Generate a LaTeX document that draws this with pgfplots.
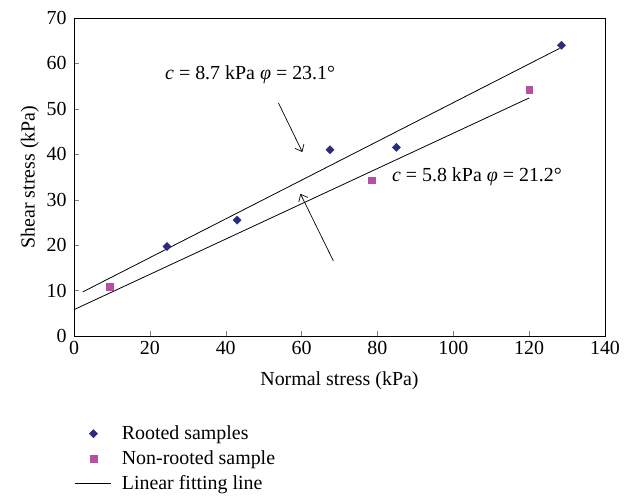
\documentclass[border=0pt]{standalone}
\usepackage{fontspec}
\setmainfont{Liberation Serif}
\usepackage{pgfplots}
\pgfplotsset{compat=1.18}
\usetikzlibrary{arrows.meta}
\definecolor{rootc}{HTML}{2B2A7E}
\definecolor{nonc}{HTML}{B64FA8}
\begin{document}
\begin{tikzpicture}[font=\fontsize{20}{23.5}\selectfont]
\begin{axis}[
  scale only axis,
  width=531bp, height=318bp,
  xmin=0, xmax=140, ymin=0, ymax=70,
  xtick={0,20,...,140}, ytick={0,10,...,70},
  tick pos=left, tick align=inside,
  major tick length=5bp,
  /pgf/number format/assume math mode=true,
  yticklabel style={xshift=-4bp},
  xticklabel style={yshift=-2bp},
  xlabel={Normal stress (kPa)},
  ylabel={Shear stress (kPa)},
  xlabel style={at={(axis description cs:0.5,-0.142)}, anchor=center},
  ylabel style={at={(axis description cs:-0.083,0.5)}, anchor=center},
  legend style={at={(axis description cs:-0.004,-0.273)}, anchor=north west, draw=none, fill=none,
    row sep=7.5bp, column sep=7bp, nodes={inner xsep=3bp, inner ysep=1bp}},
  legend cell align=left,
  clip=false,
]
\addplot[only marks, mark=square*, mark size=2.9bp, mark options={rotate=45}, color=rootc,
  legend image code/.code={\draw[mark repeat=2,mark phase=2] plot coordinates {(0bp,0bp)(18bp,0bp)(36bp,0bp)};}]
  coordinates {(24.5,19.7) (43,25.5) (67.5,41) (85,41.5) (128.5,64)};
\addlegendentry{Rooted samples}
\addplot[only marks, mark=square*, mark size=3.4bp, color=nonc,
  legend image code/.code={\draw[mark repeat=2,mark phase=2] plot coordinates {(0bp,0bp)(18bp,0bp)(36bp,0bp)};}]
  coordinates {(9.5,10.8) (78.5,34.3) (120,54.3)};
\addlegendentry{Non-rooted sample}
\addplot[black, line width=0.8pt, no marks,
  legend image code/.code={\draw[line width=0.8pt] (0bp,0bp) -- (36bp,0bp);}]
  coordinates {(2.3,9.7) (128,63.3)};
\addlegendentry{Linear fitting line}
\addplot[black, line width=0.8pt, no marks, forget plot]
  coordinates {(0,5.8) (120,52.4)};
\node[anchor=west, inner sep=0pt] at (axis cs:24,57.5) {\textit{c} = 8.7 kPa \textit{φ} = 23.1°};
\node[anchor=west, inner sep=0pt] at (axis cs:83.8,35.0) {\textit{c} = 5.8 kPa \textit{φ} = 21.2°};
\draw[-{Straight Barb[length=6bp,width=10bp]}, line width=0.7pt] (axis cs:53.9,51.3) -- (axis cs:60.2,40.5);
\draw[-{Straight Barb[length=6bp,width=10bp]}, line width=0.7pt] (axis cs:68.4,16.5) -- (axis cs:59.7,31.3);
\path (rel axis cs:0,0) ++(-74bp,-160bp) (rel axis cs:1,1) ++(25bp,18bp);
\end{axis}
\end{tikzpicture}
\end{document}
